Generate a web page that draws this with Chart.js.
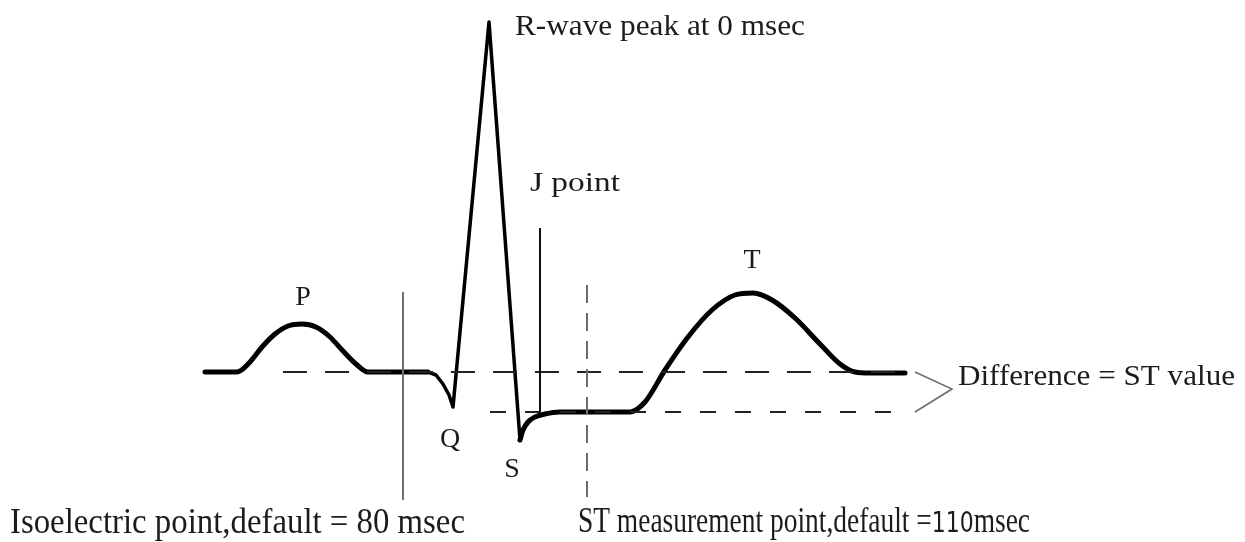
<!DOCTYPE html>
<html>
<head>
<meta charset="utf-8">
<script src="https://cdn.jsdelivr.net/npm/chart.js@4/dist/chart.umd.min.js"></script>
<style>
  html, body { margin: 0; padding: 0; background: #ffffff; }
  #wrap { width: 1245px; height: 542px; position: relative; }
</style>
</head>
<body>
<div id="wrap"><canvas id="c"></canvas></div>
<script>
// ---- Data (horizontal position units, amplitude units; baseline = 0) ----
// Baseline + P wave
const pWaveX = [205, 237, 250, 262, 275, 288, 302, 316, 330, 343, 356, 368, 380, 428];
const pWaveY = [0, 0, 10, 25, 38, 46, 48, 45, 35, 21, 8, 0, 0, 0];
// Q, R, S complex
const qrsX = [428, 436, 443, 449, 453, 489, 520];
const qrsY = [0, -3, -12, -23, -35, 350, -68];
// S recovery, ST segment, T wave, baseline
const tWaveX = [520, 523, 528, 535, 545, 560, 600, 630, 645, 665, 688, 712, 735, 753, 772, 795, 820, 840, 855, 870, 905];
const tWaveY = [-68, -58, -50, -45, -42, -40, -40, -40, -30, 2, 35, 62, 77, 79, 72, 54, 28, 8, 0, -1, -1];

const isoLineX = [283, 905];      const isoLineY = [0, 0];
const stLineX  = [490, 907];      const stLineY  = [-40, -40];
const isoMarkX = [403, 403];      const isoMarkY = [80, -128];
const jMarkX   = [540, 540];      const jMarkY   = [144, -40];
const stMarkX  = [587, 587];      const stMarkY  = [87, -125];
const braceX   = [915, 952, 915]; const braceY   = [0, -17, -40];

// Labels
const labelTexts = ["R-wave peak at 0 msec", "J point", "P", "T", "Q", "S", "Difference = ST value",
                    "Isoelectric point,default = 80 msec"];
const stLabelParts = ["ST measurement point,default =", "110", "msec"];

function pts(xs, ys) { return xs.map((x, i) => ({ x: x, y: ys[i] })); }

const serif = '"Liberation Serif", "Times New Roman", serif';
const textColor = '#1c1c1c';

// label placement: [text index, x, baseline amplitude-y, align, size, fitWidth]
const labelLayout = [
  [0, 515, 337, 'left', 30, 290],
  [1, 530, 181, 'left', 28, 90],
  [2, 303, 67, 'center', 28, 0],
  [3, 752, 104, 'center', 28, 0],
  [4, 450, -75, 'center', 28, 0],
  [5, 512, -105, 'center', 28, 0],
  [6, 958, -13, 'left', 29, 277],
  [7, 10, -161, 'left', 35, 455]
];

const textPlugin = {
  id: 'texts',
  afterDatasetsDraw(chart) {
    const ctx = chart.ctx;
    const xs = chart.scales.x, ys = chart.scales.y;
    ctx.save();
    ctx.fillStyle = textColor;
    ctx.textBaseline = 'alphabetic';
    labelLayout.forEach(([ti, x, y, align, size, fitW]) => {
      const txt = labelTexts[ti];
      ctx.font = size + 'px ' + serif;
      const px = xs.getPixelForValue(x), py = ys.getPixelForValue(y);
      const w = ctx.measureText(txt).width;
      ctx.save();
      ctx.translate(px, py);
      const sx = fitW ? fitW / w : 1;
      ctx.scale(sx, 1);
      ctx.textAlign = align;
      ctx.fillText(txt, 0, 0);
      ctx.restore();
    });
    // ST measurement label with mixed fonts
    const fonts = ['35px ' + serif, '28px "DejaVu Sans", sans-serif', '35px ' + serif];
    const parts = stLabelParts.map((t, i) => ({ t: t, f: fonts[i] }));
    let total = 0;
    parts.forEach(p => { ctx.font = p.f; p.w = ctx.measureText(p.t).width; total += p.w; });
    const sx = 452 / total;
    ctx.save();
    ctx.translate(xs.getPixelForValue(578), ys.getPixelForValue(-160));
    ctx.scale(sx, 1);
    ctx.textAlign = 'left';
    let cx = 0;
    parts.forEach(p => { ctx.font = p.f; ctx.fillText(p.t, cx, 0); cx += p.w; });
    ctx.restore();
    ctx.restore();
  }
};

const thin = '#6e6e6e';
const traceCommon = { showLine: true, borderColor: '#000', pointRadius: 0, borderJoinStyle: 'round', borderCapStyle: 'round' };

new Chart(document.getElementById('c'), {
  type: 'scatter',
  data: {
    datasets: [
      { data: pts(isoMarkX, isoMarkY), showLine: true, borderColor: thin, borderWidth: 2, pointRadius: 0 },
      { data: pts(jMarkX, jMarkY), showLine: true, borderColor: '#111', borderWidth: 2, pointRadius: 0 },
      { data: pts(stMarkX, stMarkY), showLine: true, borderColor: thin, borderWidth: 2, borderDash: [18, 10], pointRadius: 0 },
      { data: pts(isoLineX, isoLineY), showLine: true, borderColor: '#222', borderWidth: 2, borderDash: [24, 18], pointRadius: 0 },
      { data: pts(stLineX, stLineY), showLine: true, borderColor: '#222', borderWidth: 2, borderDash: [16, 19], pointRadius: 0 },
      { data: pts(braceX, braceY), showLine: true, borderColor: thin, borderWidth: 1.6, pointRadius: 0 },
      Object.assign({ data: pts(pWaveX, pWaveY), borderWidth: 5, tension: 0.4, cubicInterpolationMode: 'monotone' }, traceCommon),
      Object.assign({ data: pts(qrsX, qrsY), borderWidth: 3.5, tension: 0 }, traceCommon),
      Object.assign({ data: pts(tWaveX, tWaveY), borderWidth: 5, tension: 0.4, cubicInterpolationMode: 'monotone' }, traceCommon)
    ]
  },
  options: {
    responsive: true,
    maintainAspectRatio: false,
    animation: false,
    layout: { padding: 0 },
    plugins: { legend: { display: false }, tooltip: { enabled: false } },
    scales: {
      x: { type: 'linear', min: 0, max: 1245, display: false },
      y: { type: 'linear', min: -170, max: 372, display: false }
    },
    elements: { line: { clip: false } }
  },
  plugins: [textPlugin]
});
</script>
</body>
</html>
